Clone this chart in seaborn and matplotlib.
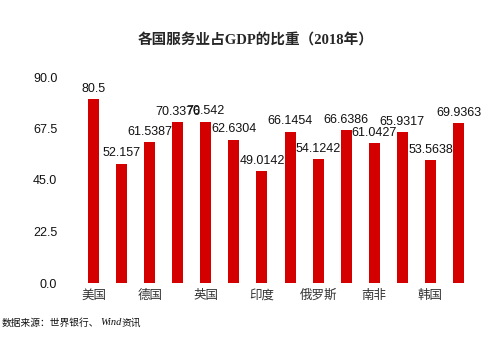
import matplotlib
matplotlib.use("Agg")
import matplotlib.pyplot as plt
import seaborn as sns
import pandas as pd

# Services value added as share of GDP, 2018 (%)
countries = ["美国", "中国", "德国", "法国", "英国", "巴西", "印度",
             "意大利", "俄罗斯", "加拿大", "南非", "澳大利亚", "韩国", "日本"]
shares = [80.5, 52.157, 61.5387, 70.3376, 70.542, 62.6304, 49.0142,
          66.1454, 54.1242, 66.6386, 61.0427, 65.9317, 53.5638, 69.9363]
value_labels = ["80.5", "52.157", "61.5387", "70.3376", "70.542", "62.6304", "49.0142",
                "66.1454", "54.1242", "66.6386", "61.0427", "65.9317", "53.5638", "69.9363"]
y_ticks = [0.0, 22.5, 45.0, 67.5, 90.0]

df = pd.DataFrame({"country": countries, "share": shares})

sns.set_style("white")
plt.rcParams["font.family"] = ["Liberation Sans", "Noto Sans CJK SC", "DejaVu Sans"]

fig = plt.figure(figsize=(4.99, 3.38), dpi=100)
W, H = 499, 338
ax = fig.add_axes([79.5 / W, 55 / H, 393 / W, 206 / H])

sns.barplot(data=df, x="country", y="share", color="#d40000", width=0.39,
            saturation=1, ax=ax)
for p in ax.patches:
    p.set_edgecolor("none")

ax.set_xlim(-0.5, len(countries) - 0.5)
ax.set_ylim(0, 90)
ax.set_yticks(y_ticks)
ax.set_yticklabels([f"{v:.1f}" for v in y_ticks], fontsize=9, color="#111111")
ax.tick_params(axis="y", length=0, pad=16)

# category labels shown on every other bar
ax.set_xticks(range(len(countries)))
ax.set_xticklabels([c if i % 2 == 0 else "" for i, c in enumerate(countries)],
                   fontsize=9, color="#333333",
                   family=["Noto Sans CJK SC", "DejaVu Sans"])
ax.tick_params(axis="x", length=0, pad=4)
ax.set_xlabel("")
ax.set_ylabel("")
for s in ax.spines.values():
    s.set_visible(False)

ax.bar_label(ax.containers[0], labels=value_labels, padding=3, fontsize=9,
             color="#111111")

fig.text(256 / W, 1 - 41 / H, "各国服务业占GDP的比重（2018年）",
         ha="center", va="center", fontsize=10.5, fontweight="bold",
         family=["Liberation Serif", "Noto Sans CJK SC"])

src = fig.text(2 / W, 1 - 328 / H, "数据来源：世界银行、", ha="left", va="bottom",
               fontsize=7, color="#111111",
               family=["Noto Sans CJK SC", "DejaVu Sans"])
wind = fig.text(0, 0, "Wind", fontsize=7.5, style="italic", color="#111111",
                family=["Liberation Serif"], ha="left", va="bottom")
fig.canvas.draw()
r = fig.canvas.get_renderer()
bb = src.get_window_extent(r)
wind.set_position(((bb.x1 + 0.5) / fig.bbox.width, (bb.y0 + 1) / fig.bbox.height))
fig.canvas.draw()
bb2 = wind.get_window_extent(r)
fig.text((bb2.x1 + 0.5) / fig.bbox.width, bb.y0 / fig.bbox.height, "资讯",
         ha="left", va="bottom", fontsize=7, color="#111111",
         family=["Noto Sans CJK SC", "DejaVu Sans"])

fig.savefig("out.png", dpi=100)
